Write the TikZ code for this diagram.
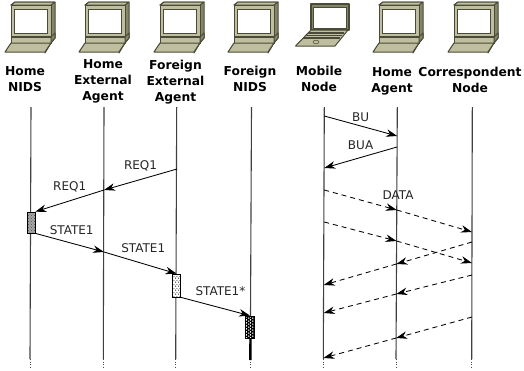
\documentclass[tikz,border=0pt]{standalone}
\usepackage{fontspec}
\setmainfont{DejaVu Sans}
\usetikzlibrary{arrows.meta, patterns}
\definecolor{iconface}{HTML}{BFBF9F}
\definecolor{iconside}{HTML}{85856A}
\definecolor{icondark}{HTML}{4A4A38}
\pgfdeclarepatternformonly{ovals}{\pgfpointorigin}{\pgfqpoint{3.6pt}{3.4pt}}{\pgfqpoint{3.6pt}{3.4pt}}{
    \pgfpathellipse{\pgfqpoint{0.9pt}{0.9pt}}{\pgfqpoint{0.65pt}{0pt}}{\pgfqpoint{0pt}{1.3pt}}
    \pgfpathellipse{\pgfqpoint{2.7pt}{2.6pt}}{\pgfqpoint{0.65pt}{0pt}}{\pgfqpoint{0pt}{1.3pt}}
    \pgfusepath{fill}
}
\pgfdeclarepatternformonly{flecks}{\pgfpointorigin}{\pgfqpoint{3.2pt}{4pt}}{\pgfqpoint{3.2pt}{4pt}}{
    \pgfpathellipse{\pgfqpoint{0.8pt}{1pt}}{\pgfqpoint{0.55pt}{0pt}}{\pgfqpoint{0pt}{0.8pt}}
    \pgfpathellipse{\pgfqpoint{2.4pt}{3pt}}{\pgfqpoint{0.55pt}{0pt}}{\pgfqpoint{0pt}{0.8pt}}
    \pgfusepath{fill}
}
\tikzset{
    icon_line/.style={draw=icondark, line width=1pt, line join=round},
    desktop_icon/.pic={
        \draw[icon_line, fill=iconside] (-20,5) -- (-16,2) -- (24,2) -- (24,38) -- (20,43) -- (20,5) -- cycle;
        \draw[icon_line, fill=iconface] (-20,5) -- (-16,2) -- (24,2) -- (20,5) -- cycle;
        \draw[icon_line, fill=iconface] (-20,5) rectangle (20,36);
        \draw[draw=icondark, line width=0.7pt, fill=white] (-16.5,9) rectangle (16.5,33);
        \draw[icon_line, fill=iconside] (-20,36) rectangle (20,37.5);
        \draw[icon_line, fill=iconface] (-20,37.5) rectangle (20,43);
        \draw[icon_line, fill=iconside] (20,43) -- (24,38) -- (24,33) -- (20,37) -- cycle;
        \draw[icon_line, fill=iconside] (20,43) -- (14,53) -- (14,52) -- cycle;
        \draw[icon_line, fill=iconface] (-26,52) -- (-20,43) -- (20,43) -- (14,52) -- cycle;
    },
    laptop_icon/.pic={
        \draw[icon_line, fill=iconside, line width=1.4pt] (-13,4) rectangle (25,30);
        \draw[draw=icondark, line width=0.6pt, fill=white] (-10.5,7) rectangle (22.5,28);
        \draw[icon_line, fill=iconface] (-28.5,46) -- (-13,30) -- (24,30) -- (11,46) -- cycle;
        \draw[draw=icondark, line width=1.2pt] (-16,33) -- (20,33) (-19,35.5) -- (18,35.5) (-21,38) -- (16,38);
        \draw[draw=icondark, line width=0.5pt] (-8,42) ellipse (3 and 1.8);
    },
    lbl_head/.style={font=\fontsize{12.3}{16}\selectfont\bfseries, align=center, inner sep=0pt},
    lbl_msg/.style={font=\fontsize{12}{14}\selectfont, text=black!85, inner sep=0pt},
    life_line/.style={draw=black!75, line width=1.1pt},
    life_dots/.style={draw=black!70, line width=0.8pt, dash pattern=on 1pt off 1.5pt},
    msg_arrow/.style={-{Stealth[length=11pt, width=7.5pt, inset=3.5pt]}, draw=black, line width=0.85pt},
    data_arrow/.style={msg_arrow, dash pattern=on 5pt off 4pt},
    act_box/.style={rectangle, draw=black, line width=0.7pt, inner sep=0pt, minimum width=8pt}
}
\begin{document}
\begin{tikzpicture}[x=1pt, y=-1pt]
    \useasboundingbox (0,0) rectangle (524,370);

    % Icons
    \path (31,0) pic {desktop_icon};
    \path (105,0) pic {desktop_icon};
    \path (180,0) pic {desktop_icon};
    \path (254,0) pic {desktop_icon};
    \path (324,0) pic {laptop_icon};
    \path (399,0) pic {desktop_icon};
    \path (474,0) pic {desktop_icon};

    % Names
    \node[lbl_head] (nids) at (25,79) {Home\\NIDS};
    \node[lbl_head] (hext) at (103,81) {Home\\External\\Agent};
    \node[lbl_head] (fext) at (175.5,82) {Foreign\\External\\Agent};
    \node[lbl_head] (fnids) at (250,79) {Foreign\\NIDS};
    \node[lbl_head] (mobile) at (319,79) {Mobile\\Node};
    \node[lbl_head] (hagent) at (392,81) {Home\\Agent};
    \node[lbl_head] (corr) at (470,80) {Correspondent\\Node};

    % Life lines
    \coordinate (t1) at (31,107);   \coordinate (b1) at (30,359);   \coordinate (e1) at (30,368);
    \coordinate (t2) at (104,107);  \coordinate (b2) at (103.3,359); \coordinate (e2) at (103.3,368);
    \coordinate (t3) at (176.7,107); \coordinate (b3) at (175.7,359); \coordinate (e3) at (175.7,368);
    \coordinate (t4) at (251.5,107); \coordinate (b4) at (250.3,359); \coordinate (e4) at (250.3,368);
    \coordinate (t5) at (324.3,107); \coordinate (b5) at (323.3,359); \coordinate (e5) at (323.3,368);
    \coordinate (t6) at (397.3,107); \coordinate (b6) at (396,359);  \coordinate (e6) at (396,368);
    \coordinate (t7) at (472.3,107); \coordinate (b7) at (471.7,359); \coordinate (e7) at (471.7,368);
    \draw[life_line] (t1) -- (b1);
    \draw[life_line] (t2) -- (b2);
    \draw[life_line] (t3) -- (b3);
    \draw[life_line] (t4) -- (b4);
    \draw[life_line] (t5) -- (b5);
    \draw[life_line] (t6) -- (b6);
    \draw[life_line] (t7) -- (b7);
    \draw[life_dots] (b1) -- (e1);
    \draw[life_dots] (b2) -- (e2);
    \draw[life_dots] (b3) -- (e3);
    \draw[life_dots] (b4) -- (e4);
    \draw[life_dots] (b5) -- (e5);
    \draw[life_dots] (b6) -- (e6);
    \draw[life_dots] (b7) -- (e7);
    \draw[draw=black, line width=2.4pt] (250.5,338) -- (250.3,360);

    % Activation boxes
    \node[act_box, minimum height=21pt, preaction={fill=black!35}, pattern=crosshatch dots, pattern color=black!70] (act1) at (31,222.5) {};
    \node[act_box, minimum height=23pt, preaction={fill=white}, pattern=flecks, pattern color=black] (act2) at (176.5,285.5) {};
    \node[act_box, minimum height=22pt, preaction={fill=black}, pattern=ovals, pattern color=white, minimum width=9pt] (act3) at (250,327) {};

    % Foreign side
    \coordinate (req0) at (177,169);
    \coordinate (req1) at (104,190);
    \coordinate (st1) at (104,252);
    \draw[msg_arrow] (req0) -- node[lbl_msg, yshift=14pt] {REQ1} (req1);
    \draw[msg_arrow] (req1) -- node[lbl_msg, yshift=14pt] {REQ1} (act1.north east);
    \draw[msg_arrow] (act1.south east) -- node[lbl_msg, xshift=2pt, yshift=13pt] {STATE1} (st1);
    \draw[msg_arrow] (st1) -- node[lbl_msg, xshift=3pt, yshift=15pt] {STATE1} (act2.north);
    \draw[msg_arrow] (act2.south east) -- node[lbl_msg, xshift=5pt, yshift=15pt] {STATE1*} (act3.north);

    % Mobile side
    \coordinate (bu0) at (324.3,116);
    \coordinate (bu1) at (397.2,136);
    \coordinate (bua0) at (397,147);
    \coordinate (bua1) at (324.2,168);
    \draw[msg_arrow] (bu0) -- node[lbl_msg, yshift=9pt] {BU} (bu1);
    \draw[msg_arrow] (bua0) -- node[lbl_msg, yshift=12pt] {BUA} (bua1);

    % Data
    \coordinate (da0) at (324.2,190); \coordinate (da1) at (396.8,210); \coordinate (da2) at (472,232);
    \coordinate (db0) at (324.2,222); \coordinate (db1) at (396.6,241); \coordinate (db2) at (472,263);
    \coordinate (dc0) at (472,242);   \coordinate (dc1) at (396.4,264); \coordinate (dc2) at (323.7,285);
    \coordinate (dd0) at (472,275);   \coordinate (dd1) at (396.3,294); \coordinate (dd2) at (323.6,313);
    \coordinate (de0) at (472,317);   \coordinate (de1) at (396.1,338); \coordinate (de2) at (323.4,358);
    \draw[data_arrow] (da0) -- (da1);
    \draw[data_arrow] (da1) -- (da2);
    \draw[data_arrow] (db0) -- (db1);
    \draw[data_arrow] (db1) -- (db2);
    \draw[data_arrow] (dc0) -- (dc1);
    \draw[data_arrow] (dc1) -- (dc2);
    \draw[data_arrow] (dd0) -- (dd1);
    \draw[data_arrow] (dd1) -- (dd2);
    \draw[data_arrow] (de0) -- (de1);
    \draw[data_arrow] (de1) -- (de2);
    \node[lbl_msg] (data) at (398,195) {DATA};
\end{tikzpicture}
\end{document}
